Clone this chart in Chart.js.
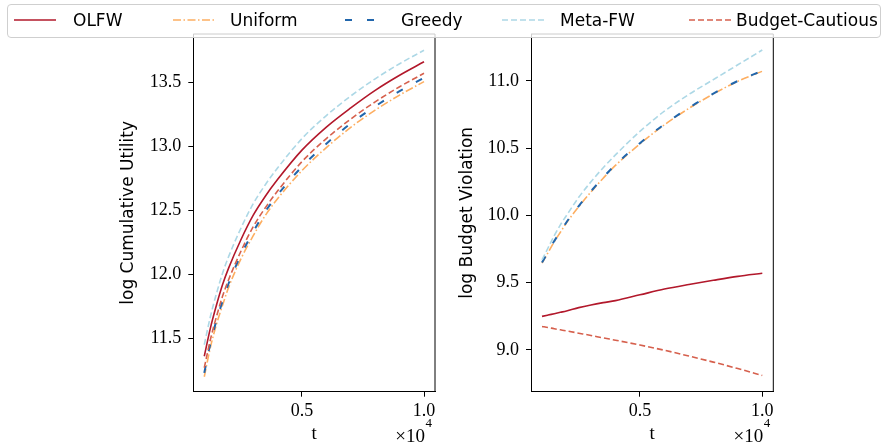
<!DOCTYPE html>
<html><head><meta charset="utf-8">
<script src="https://cdn.jsdelivr.net/npm/chart.js@4.4.1/dist/chart.umd.min.js"></script>
<style>
html,body{margin:0;padding:0;background:#fff;}
#wrap{position:relative;width:882px;height:447px;overflow:hidden;background:#fff;}
#c1{position:absolute;left:0;top:0;}
#c2{position:absolute;left:441px;top:0;}
#legend{position:absolute;left:7px;top:4px;width:874px;height:34px;box-sizing:border-box;border:1px solid #cfcfcf;border-radius:4px;background:rgba(255,255,255,0.8);font-family:"DejaVu Sans";font-size:17px;color:#000;}
#legend svg{position:absolute;left:0;top:0;}
#legend span{position:absolute;top:-2px;line-height:34px;white-space:nowrap;}
</style></head>
<body>
<div id="wrap">
<canvas id="c1" width="460" height="447"></canvas>
<canvas id="c2" width="441" height="447"></canvas>
<div id="legend"></div>
</div>
<script>
// ---- data ----
const T = [0.1, 0.125, 0.15, 0.175, 0.2, 0.25, 0.3, 0.35, 0.4, 0.5, 0.6, 0.7, 0.8, 0.9, 1.0]; // t (x 10^4)
const SERIES = ['OLFW', 'Uniform', 'Greedy', 'Meta-FW', 'Budget-Cautious'];
// log Cumulative Utility
const OLFW_U   = [11.36, 11.58, 11.76, 11.92, 12.05, 12.27, 12.46, 12.61, 12.74, 12.97, 13.15, 13.30, 13.437, 13.555, 13.66];
const UNIF_U   = [11.20, 11.43, 11.61, 11.76, 11.90, 12.12, 12.30, 12.46, 12.59, 12.81, 12.99, 13.148, 13.282, 13.40, 13.505];
const GREEDY_U = [11.23, 11.46, 11.64, 11.79, 11.93, 12.15, 12.33, 12.49, 12.62, 12.84, 13.02, 13.178, 13.312, 13.43, 13.535];
const META_U   = [11.45, 11.67, 11.85, 12.01, 12.14, 12.36, 12.55, 12.70, 12.83, 13.06, 13.24, 13.393, 13.527, 13.645, 13.75];
const BC_U     = [11.27, 11.49, 11.67, 11.83, 11.96, 12.18, 12.37, 12.52, 12.65, 12.88, 13.06, 13.213, 13.347, 13.465, 13.57];
// log Budget Violation
const OLFW_V   = [9.25, 9.26, 9.27, 9.28, 9.29, 9.315, 9.335, 9.352, 9.367, 9.41, 9.453, 9.487, 9.518, 9.547, 9.57];
const UNIF_V   = [9.645, 9.725, 9.805, 9.875, 9.945, 10.065, 10.175, 10.277, 10.372, 10.532, 10.674, 10.796, 10.903, 10.998, 11.072];
const GREEDY_V = [9.65, 9.73, 9.81, 9.88, 9.95, 10.07, 10.18, 10.283, 10.377, 10.537, 10.678, 10.80, 10.906, 11.00, 11.075];
const META_V   = [9.67, 9.76, 9.85, 9.93, 10.00, 10.135, 10.25, 10.355, 10.45, 10.625, 10.775, 10.90, 11.01, 11.12, 11.23];
const BC_V     = [9.175, 9.167, 9.158, 9.15, 9.142, 9.125, 9.108, 9.09, 9.073, 9.037, 8.998, 8.955, 8.91, 8.862, 8.81];
const X_TICKS = [0.5, 1.0];
const Y1_TICKS = [11.5, 12.0, 12.5, 13.0, 13.5];
const Y2_TICKS = [9.0, 9.5, 10.0, 10.5, 11.0];

// ---- styles ----
const STYLE = [
  {color:'#b2182b', dash:[], width:1.6},
  {color:'#fdae61', dash:[8,2.5,1.5,2.5], width:1.6},
  {color:'#2166ac', dash:[7,15], width:2},
  {color:'#add8e6', dash:[6,3], width:1.6},
  {color:'#d6604d', dash:[6,3], width:1.6}
];
const SERIF = '"Liberation Serif", serif';
const SANS = '"DejaVu Sans", sans-serif';

function pts(arr){ return T.map((x,i)=>({x:x, y:arr[i]})); }
function datasets(list){
  return list.map((arr,i)=>({
    label: SERIES[i], data: pts(arr), borderColor: STYLE[i].color, backgroundColor: STYLE[i].color,
    borderWidth: STYLE[i].width, borderDash: STYLE[i].dash, pointRadius: 0, fill:false,
    cubicInterpolationMode:'monotone', order: list.length - i
  }));
}

const boxPlugin = {
  id:'box',
  afterDraw(chart){
    const {ctx, chartArea:a} = chart;
    ctx.save();
    ctx.strokeStyle = '#000'; ctx.lineWidth = 1;
    ctx.beginPath();
    ctx.moveTo(a.left, a.top); ctx.lineTo(a.right, a.top); ctx.lineTo(a.right, a.bottom);
    ctx.stroke();
    // offset text x10^4
    ctx.fillStyle = '#000'; ctx.textBaseline = 'alphabetic'; ctx.textAlign = 'right';
    ctx.font = '13px ' + SERIF;
    const w4 = ctx.measureText('4').width;
    ctx.fillText('4', a.right - 3, 427);
    ctx.font = '19px ' + SERIF;
    ctx.fillText('\u00d710', a.right - 3 - w4 - 0.5, 441.5);
    ctx.restore();
  }
};

function makeChart(id, list, yTicks, ymin, ymax, yTitle, pad, yWidth){
  return new Chart(document.getElementById(id), {
    type:'line',
    data:{ datasets: datasets(list) },
    options:{
      responsive:false, animation:false, events:[],
      layout:{ padding: pad },
      plugins:{ legend:{display:false}, tooltip:{enabled:false} },
      scales:{
        x:{
          type:'linear', position:'bottom', min:0.055, max:1.045,
          afterBuildTicks: s => { s.ticks = X_TICKS.map(v=>({value:v})); },
          afterFit: s => { s.height = 55.3; },
          ticks:{ font:{family:SERIF, size:18}, color:'#000', padding:4, maxRotation:0, autoSkip:false,
                  callback: v => Number(v).toFixed(1) },
          grid:{ drawOnChartArea:false, drawTicks:true, tickLength:5, tickColor:'#000', tickWidth:1 },
          border:{ display:true, color:'#000', width:1 },
          title:{ display:true, text:'t', font:{family:SERIF, size:19}, color:'#000', padding:{top:0, bottom:1.6} }
        },
        y:{
          type:'linear', position:'left', min:ymin, max:ymax,
          afterBuildTicks: s => { s.ticks = yTicks.map(v=>({value:v})); },
          afterFit: s => { s.width = yWidth; },
          ticks:{ font:{family:SERIF, size:18}, color:'#000', padding:7,
                  callback: v => Number(v).toFixed(1) },
          grid:{ drawOnChartArea:false, drawTicks:true, tickLength:5, tickColor:'#000', tickWidth:1 },
          border:{ display:true, color:'#000', width:1 },
          title:{ display:true, text:yTitle, font:{family:SANS, size:17}, color:'#000', padding:{top:8, bottom:0} }
        }
      }
    },
    plugins:[boxPlugin]
  });
}

makeChart('c1', [OLFW_U, UNIF_U, GREEDY_U, META_U, BC_U], Y1_TICKS, 11.083, 13.877,
  'log Cumulative Utility', {left:110, right:25, top:34, bottom:0}, 83.3);
makeChart('c2', [OLFW_V, UNIF_V, GREEDY_V, META_V, BC_V], Y2_TICKS, 8.69, 11.349,
  'log Budget Violation', {left:8, right:108.7, top:34, bottom:0}, 82);

// ---- legend ----
const LEG_LINE_X = [6, 165, 337, 494, 681];
const LEG_TEXT_X = [65, 222, 393, 552, 728];
(function(){
  const lg = document.getElementById('legend');
  const ns = 'http://www.w3.org/2000/svg';
  const svg = document.createElementNS(ns, 'svg');
  svg.setAttribute('width', 872); svg.setAttribute('height', 32);
  SERIES.forEach((name,i)=>{
    const ln = document.createElementNS(ns, 'line');
    ln.setAttribute('x1', LEG_LINE_X[i]); ln.setAttribute('x2', LEG_LINE_X[i] + 42);
    ln.setAttribute('y1', 15); ln.setAttribute('y2', 15);
    ln.setAttribute('stroke', STYLE[i].color); ln.setAttribute('stroke-width', STYLE[i].width);
    if (STYLE[i].dash.length) ln.setAttribute('stroke-dasharray', STYLE[i].dash.join(' '));
    svg.appendChild(ln);
    const sp = document.createElement('span');
    sp.textContent = name; sp.style.left = LEG_TEXT_X[i] + 'px';
    lg.appendChild(sp);
  });
  lg.appendChild(svg);
})();
</script>
</body></html>
